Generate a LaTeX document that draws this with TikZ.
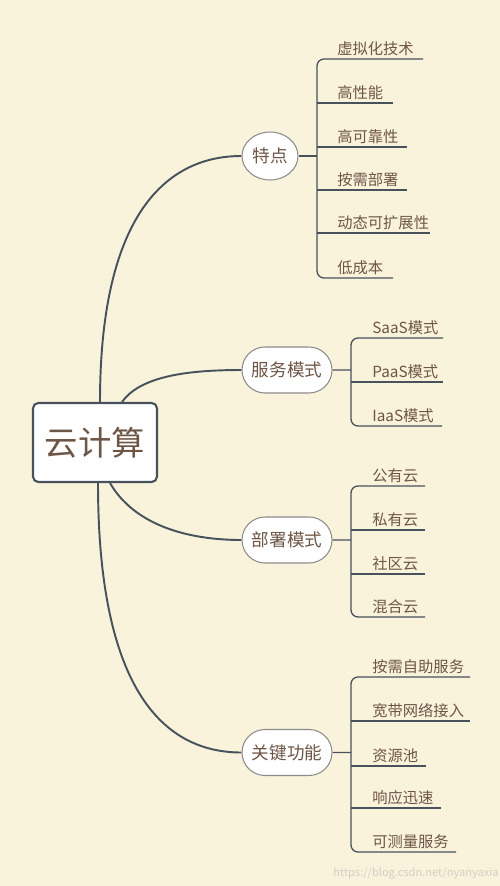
\documentclass[tikz,border=0pt]{standalone}
\usepackage{fontspec}
\setmainfont{Noto Sans CJK SC}
\usetikzlibrary{positioning}
\usetikzlibrary{shapes.geometric, shapes.misc}
\definecolor{fondo}{HTML}{FAF3DC}
\definecolor{texto}{HTML}{6E5646}
\definecolor{linea}{HTML}{47525C}
\definecolor{borde}{HTML}{8C8C8C}
\definecolor{gris}{HTML}{D3CEC2}

\begin{document}
\begin{tikzpicture}[x=0.02cm, y=-0.02cm,
    raiz/.style={draw=linea, line width=1.2pt, fill=white, rounded corners=3pt,
        minimum width=2.48cm, minimum height=1.58cm, text=texto,
        font=\fontsize{19}{22}\selectfont},
    tema/.style={draw=borde, line width=0.6pt, fill=white, rounded rectangle,
        inner sep=0pt, minimum width=1.8cm, minimum height=0.92cm, text=texto,
        font=\fontsize{10}{12}\selectfont},
    hoja/.style={anchor=west, inner sep=0pt, text=texto,
        font=\fontsize{8.7}{10}\selectfont},
    tronco/.style={draw=linea, line width=1.1pt},
    rama/.style={draw=linea, line width=0.75pt}]

    % Fondo
    \fill[fondo] (0,0) rectangle (500,886);

    % Nodo central
    \node[raiz] (nube) at (95,442.5) {云计算};

    % Temas
    \node[tema, ellipse, minimum width=1.12cm, minimum height=0.96cm] (rasgos) at (270,156) {特点};
    \node[tema] (servicio) at (287,370) {服务模式};
    \node[tema] (despliegue) at (287,540) {部署模式};
    \node[tema] (funciones) at (287,752.5) {关键功能};

    % Troncos
    \draw[tronco] ([xshift=0.1cm]nube.north) .. controls +(0,-180) and +(-80,0) .. (rasgos.west);
    \draw[tronco] ([xshift=0.54cm]nube.north) .. controls +(18,-25) and +(-57,0) .. (servicio.west);
    \draw[tronco] ([xshift=0.3cm]nube.south) .. controls +(25,43) and +(-52,0) .. (despliegue.west);
    \draw[tronco] ([xshift=0.06cm]nube.south) .. controls +(0,200) and +(-82,0) .. (funciones.west);

    % Uniones
    \coordinate (j1) at (317,156);
    \coordinate (j2) at (351,370);
    \coordinate (j3) at (351,540);
    \coordinate (j4) at (351,752.5);
    \draw[rama] (rasgos) -- (j1);
    \draw[rama] (servicio) -- (j2);
    \draw[rama] (despliegue) -- (j3);
    \draw[rama] (funciones) -- (j4);

    % Hojas de cada tema
    \foreach \y/\fin/\txt [count=\i] in {59/423/虚拟化技术, 103/393/高性能, 147/407/高可靠性,
        190/407/按需部署, 233/430/动态可扩展性, 278/393/低成本} {
        \node[hoja] (a\i) at (337,\y-10) {\txt};
        \coordinate (fa\i) at (\fin,\y);
    }
    \foreach \y/\fin/\txt [count=\i] in {338/443/SaaS模式, 382/443/PaaS模式, 426/442/IaaS模式} {
        \node[hoja] (b\i) at (372,\y-10) {\txt};
        \coordinate (fb\i) at (\fin,\y);
    }
    \foreach \y/\fin/\txt [count=\i] in {486/425/公有云, 530/425/私有云, 574/425/社区云, 617/425/混合云} {
        \node[hoja] (c\i) at (372,\y-10) {\txt};
        \coordinate (fc\i) at (\fin,\y);
    }
    \foreach \y/\fin/\txt [count=\i] in {677/470/按需自助服务, 721/470/宽带网络接入, 766/426/资源池,
        808/441/响应迅速, 852/456/可测量服务} {
        \node[hoja] (d\i) at (372,\y-10) {\txt};
        \coordinate (fd\i) at (\fin,\y);
    }

    % Corchetes y subrayados
    \draw[rama, rounded corners=4] (fa1) -| (j1) |- (fa6);
    \foreach \i in {2,...,5} \draw[rama] (j1 |- fa\i) -- (fa\i);
    \draw[rama, rounded corners=4] (fb1) -| (j2) |- (fb3);
    \draw[rama] (j2 |- fb2) -- (fb2);
    \draw[rama, rounded corners=4] (fc1) -| (j3) |- (fc4);
    \foreach \i in {2,3} \draw[rama] (j3 |- fc\i) -- (fc\i);
    \draw[rama, rounded corners=4] (fd1) -| (j4) |- (fd5);
    \foreach \i in {2,...,4} \draw[rama] (j4 |- fd\i) -- (fd\i);

    % Marca de agua
    \node[text=gris, font=\fontsize{6.3}{8}\selectfont, inner sep=0pt] (marca) at (416,873) {https://blog.csdn.net/nyanyaxia};
\end{tikzpicture}
\end{document}
